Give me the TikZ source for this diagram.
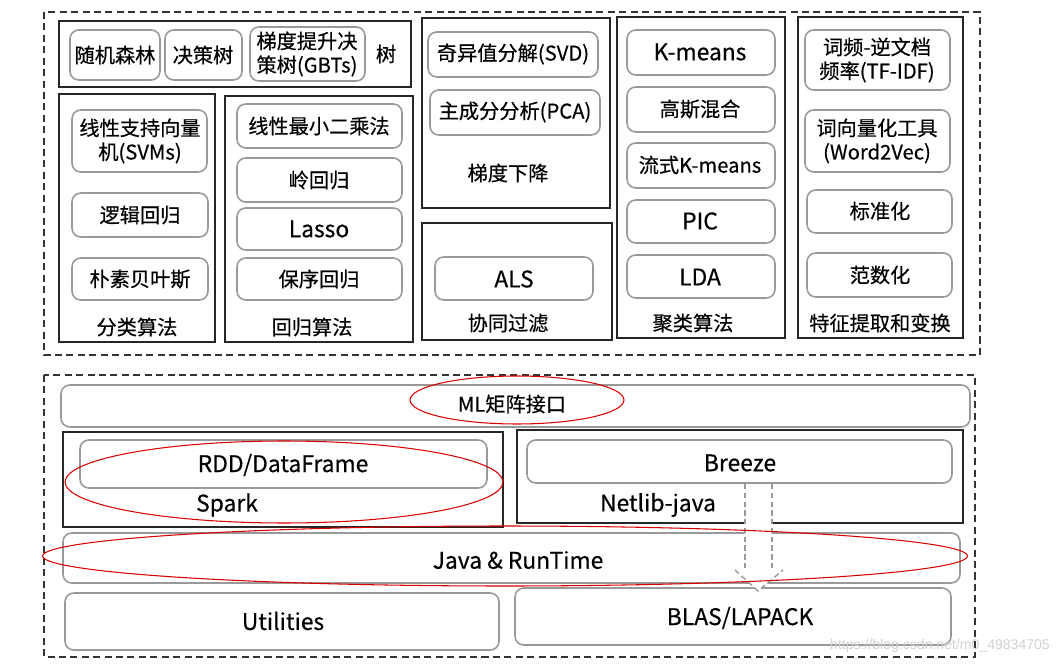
\documentclass[tikz,border=0pt]{standalone}
\usepackage{fontspec}
\setmainfont{Noto Sans CJK SC}[FakeBold=0.4]
\newfontfamily\wmfont{Liberation Sans}
\usetikzlibrary{calc}

\tikzset{
  outerbox/.style={draw=black!85, line width=1.3pt},
  innerbox/.style={draw=black!40, line width=0.9pt, rounded corners=5pt},
  groupline/.style={draw=black!80, line width=1pt, dash pattern=on 4pt off 2.5pt},
  lbl/.style={font=\fontsize{11.5}{13.6}\selectfont, align=center, inner sep=0pt},
  latin/.style={lbl, font=\fontsize{13}{15}\selectfont},
  redring/.style={draw=red!85!black, line width=0.6pt},
  arrline/.style={draw=black!40, line width=0.8pt, dash pattern=on 3pt off 2pt}
}

\begin{document}
\begin{tikzpicture}[x=0.02cm,y=-0.02cm]
	\useasboundingbox (0,0) rectangle (1064,665);
	%Capa de algoritmos
	\draw[groupline] (44,12) rectangle (980,355);
	%Arboles
	\draw[outerbox] (59,21) rectangle (411,87);
	\draw[innerbox] (70,30) rectangle (160,80);
	\draw[innerbox] (165,30) rectangle (242,80);
	\draw[innerbox] (250,27) rectangle (365,81);
	\node[lbl](rf)at (115,55) {随机森林};
	\node[lbl](dt)at (203,55) {决策树};
	\node[lbl](gbt)at (307,54) {梯度提升决\\策树(GBTs)};
	\node[lbl](tree)at (386,54) {树};
	
	%Clasificacion
	\draw[outerbox] (59,94) rectangle (215,342);
	\draw[innerbox] (72,110) rectangle (207,172);
	\draw[innerbox] (72,193) rectangle (208,237);
	\draw[innerbox] (72,258) rectangle (208,300);
	\node[lbl](svm)at (140,141) {线性支持向量\\机(SVMs)};
	\node[lbl](lr)at (140,215) {逻辑回归};
	\node[lbl](nb)at (140,279) {朴素贝叶斯};
	\node[lbl](cls)at (137,327) {分类算法};
	
	%Regresion
	\draw[outerbox] (225,96) rectangle (413,342);
	\draw[innerbox] (237,104) rectangle (402,148);
	\draw[innerbox] (237,158) rectangle (402,202);
	\draw[innerbox] (237,208) rectangle (402,250);
	\draw[innerbox] (237,258) rectangle (402,300);
	\node[lbl](ls)at (319,126) {线性最小二乘法};
	\node[lbl](ridge)at (319,180) {岭回归};
	\node[latin](lasso)at (319,229) {Lasso};
	\node[lbl](iso)at (319,279) {保序回归};
	\node[lbl](reg)at (312,327) {回归算法};
	
	%Reduccion
	\draw[outerbox] (422,18) rectangle (610,208);
	\draw[innerbox] (428,32) rectangle (598,77);
	\draw[innerbox] (430,90) rectangle (600,135);
	\node[lbl](svd)at (513,54) {奇异值分解(SVD)};
	\node[lbl](pca)at (515,112) {主成分分析(PCA)};
	\node[lbl](gd)at (508,173) {梯度下降};
	
	%Filtrado
	\draw[outerbox] (422,223) rectangle (612,340);
	\draw[innerbox] (435,257) rectangle (593,300);
	\node[latin](als)at (514,279) {ALS};
	\node[lbl](cf)at (508,323) {协同过滤};
	
	%Agrupamiento
	\draw[outerbox] (617,17) rectangle (785,338);
	\draw[innerbox] (627,30) rectangle (775,75);
	\draw[innerbox] (627,87) rectangle (775,132);
	\draw[innerbox] (627,143) rectangle (775,188);
	\draw[innerbox] (627,200) rectangle (775,243);
	\draw[innerbox] (627,255) rectangle (775,298);
	\node[latin](km)at (700,52) {K-means};
	\node[lbl](gmm)at (700,109) {高斯混合};
	\node[lbl](skm)at (700,165) {流式K-means};
	\node[latin](pic)at (700,221) {PIC};
	\node[latin](lda)at (700,277) {LDA};
	\node[lbl](clu)at (693,323) {聚类算法};
	
	%Caracteristicas
	\draw[outerbox] (798,17) rectangle (963,338);
	\draw[innerbox] (805,30) rectangle (950,90);
	\draw[innerbox] (805,110) rectangle (950,172);
	\draw[innerbox] (807,190) rectangle (952,233);
	\draw[innerbox] (807,253) rectangle (952,297);
	\node[lbl](tfidf)at (877,60) {词频-逆文档\\频率(TF-IDF)};
	\node[lbl](w2v)at (877,141) {词向量化工具\\(Word2Vec)};
	\node[lbl](std)at (880,211) {标准化};
	\node[lbl](norm)at (880,275) {范数化};
	\node[lbl](feat)at (880,323) {特征提取和变换};
	
	%Capa base
	\draw[groupline] (44,375) rectangle (975,657);
	\draw[innerbox] (61,385) rectangle (970,427);
	\node[lbl](ml)at (512,404) {ML矩阵接口};
	
	\draw[outerbox] (63,432) rectangle (503,527);
	\draw[innerbox] (80,440) rectangle (487,488);
	\node[latin](rdd)at (283,465) {RDD/DataFrame};
	\node[latin](spark)at (227,505) {Spark};
	
	\draw[outerbox] (517,430) rectangle (963,523);
	\draw[innerbox] (527,440) rectangle (952,483);
	\node[latin](breeze)at (740,463) {Breeze};
	\node[latin](netlib)at (658,505) {Netlib-java};
	
	\draw[innerbox] (63,533) rectangle (960,583);
	\node[latin](java)at (518,560) {Java \& RunTime};
	
	\draw[innerbox] (65,593) rectangle (499,650);
	\node[latin](util)at (283,621) {Utilities};
	\draw[innerbox] (515,588) rectangle (951,645);
	\node[latin](blas)at (740,618) {BLAS/LAPACK};
	
	%Flecha Breeze -> BLAS
	\coordinate (atop) at (758,484);
	\coordinate (atip) at (758,591);
	\fill[white] ($(atop)+(-13,0)$) -- ($(atop)+(-13,86)$) -- ($(atop)+(-23,86)$) -- (atip)
		-- ($(atop)+(25,86)$) -- ($(atop)+(14,86)$) -- ($(atop)+(14,0)$) -- cycle;
	\draw[arrline] ($(atop)+(-13,0)$) -- ($(atop)+(-13,86)$);
	\draw[arrline] ($(atop)+(14,0)$) -- ($(atop)+(14,86)$);
	\draw[arrline] ($(atop)+(-23,86)$) -- (atip) -- ($(atop)+(25,86)$);
	
	%Elipses rojas
	\draw[redring] (ml.center)++(5,-4) ellipse [x radius=2.14cm, y radius=0.48cm];
	\draw[redring] (284,482) ellipse [x radius=4.38cm, y radius=0.82cm];
	\draw[redring] (505,556) ellipse [x radius=9.25cm, y radius=0.6cm];
	
	\node[font=\wmfont\fontsize{8}{9}\selectfont, text=black!18, anchor=east](wm)at (1056,646) {https://blog.csdn.net/m0\_49834705};
\end{tikzpicture}
\end{document}
